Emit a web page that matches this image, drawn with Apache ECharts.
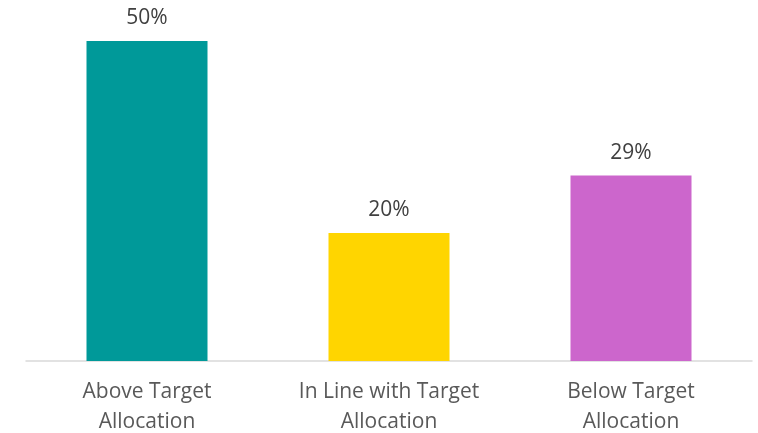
<!DOCTYPE html>
<html>
<head>
<meta charset="utf-8">
<script src="https://cdn.jsdelivr.net/npm/echarts@6/dist/echarts.min.js"></script>
<style>
  html, body { margin: 0; padding: 0; background: #ffffff; }
  #chart { width: 758px; height: 433px; }
</style>
</head>
<body>
<div id="chart"></div>
<script>
// Allocation position relative to target, share of respondents (%)
const categories = ['Above Target\nAllocation', 'In Line with Target\nAllocation', 'Below Target\nAllocation'];
const shares = [50, 20, 29];
const barColors = ['#009999', '#FFD500', '#CC66CC'];

const chart = echarts.init(document.getElementById('chart'));
chart.setOption({
  animation: false,
  grid: { left: 26, right: 6, top: 41, bottom: 72, outerBoundsMode: 'none' },
  xAxis: {
    type: 'category',
    data: categories,
    axisLine: { lineStyle: { color: '#D9D9D9', width: 1.5 } },
    axisTick: { show: false },
    axisLabel: {
      color: '#595959',
      fontFamily: 'Open Sans',
      fontSize: 21,
      lineHeight: 30,
      margin: 16
    }
  },
  yAxis: {
    type: 'value',
    min: 0,
    max: 50,
    show: false,
    splitLine: { show: false }
  },
  series: [{
    type: 'bar',
    barWidth: '50%',
    data: shares.map((v, i) => ({ value: v, itemStyle: { color: barColors[i] } })),
    label: {
      show: true,
      position: 'top',
      distance: 12,
      formatter: '{c}%',
      color: '#404040',
      fontFamily: 'Open Sans',
      fontSize: 21
    }
  }]
});
</script>
</body>
</html>
